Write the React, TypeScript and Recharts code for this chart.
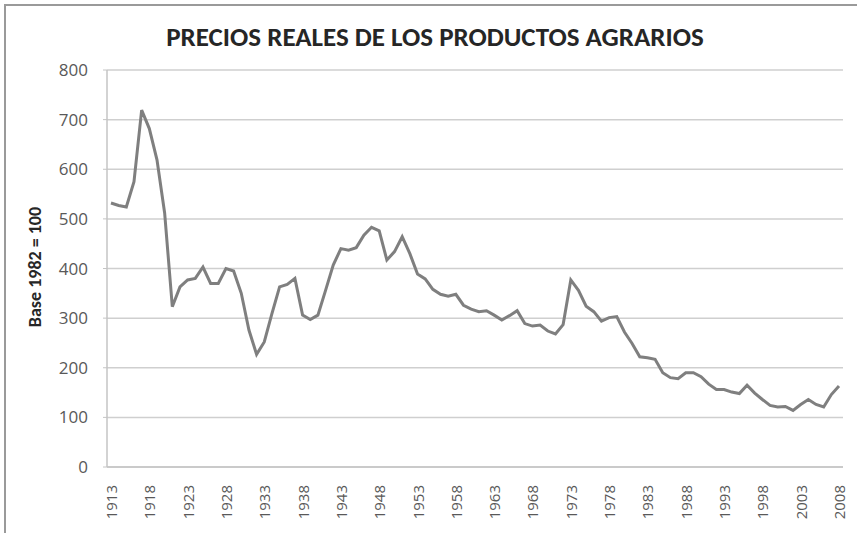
import { LineChart, Line, XAxis, YAxis, CartesianGrid } from 'recharts';

const startYear = 1913;

const prices = [
  532, 527, 524, 575, 719, 682, 619, 512, 323, 363,
  377, 380, 403, 370, 370, 400, 395, 350, 276, 227,
  252, 309, 363, 368, 380, 306, 297, 306, 356, 407,
  440, 437, 442, 467, 483, 476, 417, 434, 464, 430,
  389, 379, 358, 348, 344, 348, 326, 318, 313, 315,
  306, 296, 305, 315, 289, 284, 286, 274, 268, 287,
  377, 356, 324, 313, 294, 301, 303, 272, 249, 222,
  220, 217, 190, 180, 178, 190, 190, 182, 167, 156,
  156, 151, 148, 165, 149, 136, 124, 121, 122, 114,
  126, 136, 126, 121, 146, 163,
];

const yTicks = [0, 100, 200, 300, 400, 500, 600, 700, 800];

const data = prices.map((v, i) => ({ year: String(startYear + i), value: v }));

const FONT = 'Calibri, Carlito, "Open Sans", sans-serif';
const NUM_FONT = '"Open Sans", sans-serif';

const YearTick = (props: any) => {
  const { x, y, payload } = props;
  return (
    <text
      transform={`translate(${x},${y + 10}) rotate(-90)`}
      textAnchor="end"
      dominantBaseline="central"
      fontSize={15}
      fill="#595959"
      fontFamily={NUM_FONT}
    >
      {payload.value}
    </text>
  );
};

export default function App() {
  return (
    <div style={{ position: 'absolute', left: 0, top: 0, width: 857, height: 533, background: '#fff' }}>
      <div style={{ position: 'absolute', left: 4, top: 4, width: 853, height: 529, borderLeft: '2px solid #9a9a9a', borderTop: '2px solid #9a9a9a' }} />
      <div
        style={{
          position: 'absolute', left: 0, width: 870, top: 20, textAlign: 'center',
          fontFamily: FONT, fontWeight: 700, fontSize: 27, color: '#262626',
        }}
      >
        PRECIOS REALES DE LOS PRODUCTOS AGRARIOS
      </div>
      <div
        style={{
          position: 'absolute', left: 35, top: 267, transform: 'translate(-50%, -50%) rotate(-90deg)',
          whiteSpace: 'nowrap', fontFamily: FONT, fontWeight: 700, fontSize: 18, color: '#262626',
        }}
      >
        Base 1982 = 100
      </div>
      <LineChart
        width={857}
        height={533}
        data={data}
        margin={{ top: 70, right: 14, bottom: 6, left: 47 }}
        style={{ position: 'absolute', left: 0, top: 0 }}
      >
        <CartesianGrid vertical={false} stroke="#cfcfcf" strokeWidth={1.5} />
        <XAxis
          dataKey="year"
          interval={4}
          height={60}
          padding={{ left: 4, right: 4 }}
          axisLine={{ stroke: '#c4c4c4', strokeWidth: 1.5 }}
          tickLine={false}
          tick={<YearTick />}
        />
        <YAxis
          domain={[0, 800]}
          ticks={yTicks}
          width={60}
          axisLine={{ stroke: '#c4c4c4', strokeWidth: 1.5 }}
          tickLine={{ stroke: '#c4c4c4' }}
          tickSize={4}
          tickMargin={15}
          tick={{ fontSize: 17, fill: '#595959', fontFamily: NUM_FONT }}
        />
        <Line
          type="linear"
          dataKey="value"
          stroke="#7f7f7f"
          strokeWidth={3}
          dot={false}
          isAnimationActive={false}
        />
      </LineChart>
    </div>
  );
}
